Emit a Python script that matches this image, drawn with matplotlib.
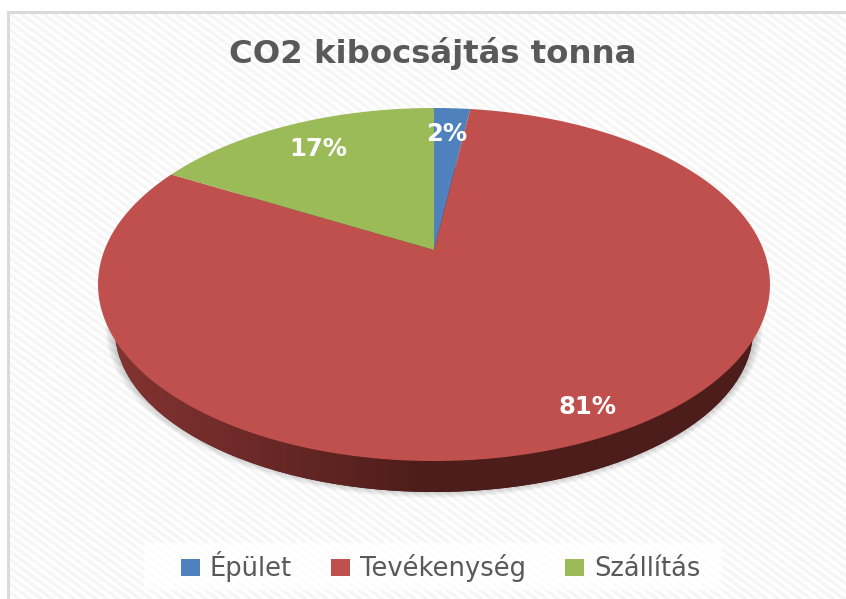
import numpy as np
import matplotlib
matplotlib.use("Agg")
import matplotlib.pyplot as plt
from matplotlib.patches import Ellipse, Rectangle
from matplotlib.path import Path
from matplotlib.transforms import Transform, Affine2D

# --- data ---
categories = ["Épület", "Tevékenység", "Szállítás"]
shares = [2.1, 81.0, 16.9]
colors = ["#4F81BD", "#C0504D", "#9BBB59"]
title = "CO2 kibocsájtás tonna"

W, H = 846, 599
CX, APEX_Y, A, C, D = 434.0, 250.0, -120.9, 0.1955, 329.5


class Tilt(Transform):
    """Perspective view of the unit pie, in pixel coordinates."""
    input_dims = 2
    output_dims = 2
    is_affine = False

    def transform_non_affine(self, values):
        v = np.asarray(values, float)
        w = 1 + C * v[:, 1]
        return np.column_stack((CX + D * v[:, 0] / w, (A * v[:, 1] + APEX_Y) / w))

    def transform_path_non_affine(self, path):
        polys = path.transformed(Affine2D().scale(2000)).to_polygons(closed_only=False)
        pts = np.concatenate(polys) / 2000
        return Path(self.transform_non_affine(pts))


fig = plt.figure(figsize=(W / 100, H / 100), dpi=100, facecolor="white")
ax = fig.add_axes([0, 0, 1, 1])

wedges, _, autotexts = ax.pie(shares, colors=colors, startangle=90, counterclock=False,
                              autopct=lambda p: f"{p:.0f}%", radius=1,
                              wedgeprops=dict(linewidth=0))
ax.set_aspect("auto")
ax.set_xlim(0, W)
ax.set_ylim(H, 0)
ax.set_axis_off()

# chart area: grey frame and faint diagonal stripes
ax.add_patch(Rectangle((7, 11), W - 7, H - 11, fc="#DADADA", ec="none", zorder=0))
yy, xx = np.mgrid[14:H, 10:W]
stripes = (((xx - 1.35 * yy) % 11) < 5.5).astype(float)
ax.imshow(stripes, extent=(10, W, H, 14), cmap=matplotlib.colors.ListedColormap(["#FFFFFF", "#F6F6F6"]),
          aspect="auto", zorder=0.5, interpolation="bilinear")

# soft shadow below the pie
for k in range(1, 11):
    ax.add_patch(Ellipse((CX, 327), 2 * (319 + k), 2 * (162 + 0.9 * k), fc="black",
                         ec="none", alpha=0.024, zorder=1))

# pie side, shaded from left to right
rim = Ellipse((CX, 330), 638, 324, fc="#4C1E1C", ec="none", zorder=2)
ax.add_patch(rim)
stops_x = [100, 230, 330, 420, 770]
stops_c = np.array([[0x85, 0x35, 0x33], [0x70, 0x2B, 0x29], [0x5E, 0x24, 0x22],
                    [0x4E, 0x1D, 0x1B], [0x4C, 0x1E, 0x1C]]) / 255
gx = np.arange(100, 771)
grad = np.stack([np.interp(gx, stops_x, stops_c[:, i]) for i in range(3)], axis=-1)[None, :, :]
im = ax.imshow(grad, extent=(100, 771, 500, 130), aspect="auto", zorder=2.1)
im.set_clip_path(rim)
ax.set_xlim(0, W)
ax.set_ylim(H, 0)

# pie top
tilt = Tilt()
for w in wedges:
    w.set_transform(tilt + ax.transData)
    w.set_zorder(3)
    w.set_clip_on(False)

label_pos = [(447, 134), (587, 407), (318, 149)]
for t, p in zip(autotexts, label_pos):
    t.set_position(p)
    t.set(color="white", fontweight="bold", fontsize=17.5, ha="center", va="center",
          family="DejaVu Sans", zorder=4)

ax.text(433, 53, title, ha="center", va="center", fontsize=23.3, fontweight="bold",
        color="#595959", family="DejaVu Sans", zorder=4)

# legend
ax.add_patch(Rectangle((144, 543), 577, 47, fc="white", ec="none", alpha=0.75, zorder=3))
leg = ax.legend(wedges, categories, loc="center", bbox_to_anchor=(440.5, 567),
                bbox_transform=ax.transData, ncol=3, frameon=False, fontsize=18.5,
                labelcolor="#595959", handlelength=0.74, handleheight=0.62,
                handletextpad=0.38, columnspacing=1.53, borderpad=0)
leg.set_zorder(4)

fig.savefig("out.png", dpi=100, facecolor="white")
